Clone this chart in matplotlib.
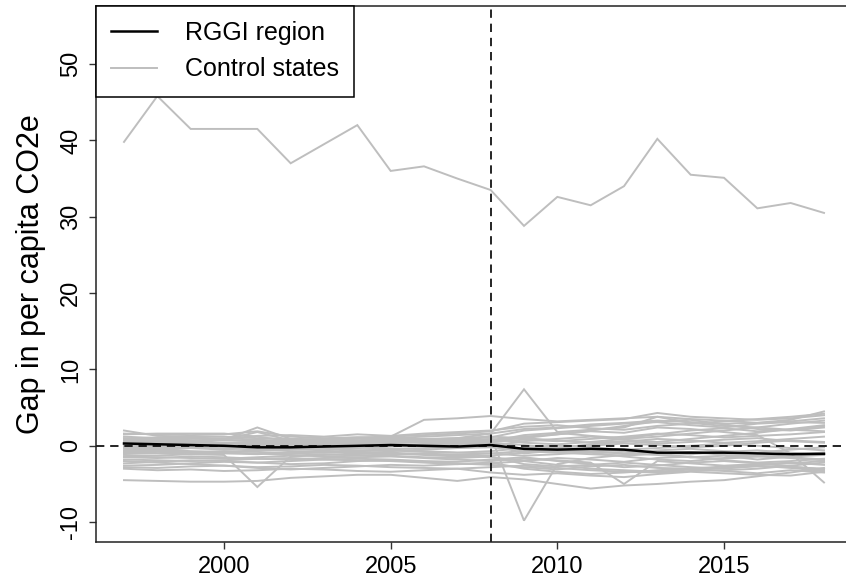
import numpy as np
import matplotlib
matplotlib.use("Agg")
import matplotlib.pyplot as plt

plt.rcParams['font.family'] = ['Liberation Sans', 'DejaVu Sans']

###
### Data: gap in per capita CO2e, 1997-2018
###
years = list(range(1997, 2019))
treat_year = 2008

rggi = [0.3, 0.2, 0.1, 0.0, -0.2, -0.2, -0.1, 0.0, 0.1, 0.0, -0.1, 0.1,
        -0.4, -0.5, -0.4, -0.5, -0.9, -0.9, -0.9, -1.0, -1.1, -1.05]

ctrl_high = [39.8, 45.8, 41.5, 41.5, 41.5, 37.0, 39.5, 42.0, 36.0, 36.6, 35.0,
             33.5, 28.8, 32.6, 31.5, 34.0, 40.2, 35.5, 35.1, 31.1, 31.8, 30.5]
g01 = [2.0, 1.3, 1.2, 1.2, 1.0, 0.9, 0.8, 0.9, 1.0, 1.2, 1.4, 1.6, 2.2, 2.4, 2.8, 3.0, 3.3, 3.1, 2.9, 3.0, 3.4, 4.5]
g02 = [1.5, 1.6, 1.6, 1.6, 1.2, 0.6, 0.5, 0.7, 0.8, 0.9, 1.0, 1.2, 1.0, 1.5, 2.0, 2.6, 3.2, 3.4, 2.8, 2.2, 2.0, 2.4]
g03 = [0.6, 0.4, 0.5, 0.3, 0.5, 0.6, 0.7, 0.6, 1.2, 3.4, 3.6, 3.9, 3.5, 3.2, 3.4, 3.6, 3.8, 3.5, 3.3, 3.0, 3.2, 3.6]
g04 = [1.0, 0.9, 0.7, 0.8, 2.4, 0.9, 0.8, 1.0, 0.6, 0.8, 1.0, 1.6, 7.4, 1.8, 2.1, 2.4, 3.8, 3.0, 2.6, 2.4, 2.9, 3.3]
g05 = [-0.4, -0.6, -0.3, -0.5, -0.2, -0.4, -0.6, -0.3, -0.1, 0.2, 0.5, 1.3, -9.8, -2.4, -1.6, -1.2, -1.0, -1.5, -1.3, -1.8, -1.4, -1.2]
g06 = [-0.9, -1.0, -1.1, -1.2, -5.4, -1.4, -1.2, -1.0, -0.9, -1.1, -1.2, -1.0, -0.7, -0.9, -1.1, -1.3, -1.0, -0.8, -1.2, -1.4, -1.1, -0.9]
g07 = [-1.5, -1.6, -1.4, -1.5, -1.7, -1.8, -1.6, -1.5, -1.4, -1.6, -1.8, -2.0, -1.7, -1.9, -2.2, -5.0, -2.0, -2.3, -2.6, -2.4, -2.2, -2.5]
g08 = [-4.5, -4.6, -4.7, -4.7, -4.6, -4.2, -4.0, -3.8, -3.8, -4.2, -4.6, -4.1, -4.4, -5.0, -5.6, -5.2, -5.0, -4.7, -4.5, -4.0, -3.5, -2.9]
g09 = [-0.2, -0.3, -0.1, 0.2, 0.4, 0.3, 0.1, 0.0, 0.3, 0.5, 0.6, 0.8, 1.2, 1.5, 1.9, 1.7, 2.4, 2.2, 1.8, 1.4, -1.0, -4.8]
g10 = [-2.0, -2.2, -2.4, -2.6, -2.8, -2.7, -2.5, -2.6, -2.8, -2.9, -3.0, -2.8, -2.6, -2.9, -3.2, -3.4, -3.5, -3.3, -3.2, -3.0, -2.6, -2.2]
g11 = [-3.0, -3.2, -3.1, -3.3, -3.2, -3.0, -3.1, -3.3, -3.4, -3.2, -3.0, -3.5, -3.8, -3.6, -3.9, -4.1, -3.7, -3.4, -3.6, -3.8, -3.9, -3.4]
g12 = [0.3, 0.2, 0.4, 0.1, 0.2, 0.5, 0.6, 0.4, 0.2, 0.1, 0.3, 0.5, 0.8, 0.6, 0.9, 1.2, 1.6, 1.4, 1.1, 1.3, 1.5, 1.8]
g13 = [-0.6, -0.5, -0.7, -0.8, -0.6, -0.5, -0.4, -0.6, -0.7, -0.5, -0.3, -0.2, -0.6, -0.8, -0.5, -0.7, -0.9, -1.1, -0.8, -0.6, -0.9, -1.2]
g14 = [1.2, 1.0, 1.1, 0.9, 1.3, 1.4, 1.2, 1.5, 1.3, 1.6, 1.8, 2.0, 2.5, 2.7, 2.3, 2.1, 2.6, 2.9, 3.2, 3.5, 3.8, 4.2]
g15 = [-1.2, -1.3, -1.1, -0.9, -1.0, -1.2, -1.4, -1.3, -1.1, -1.0, -1.2, -1.5, -2.0, -2.5, -3.0, -3.2, -3.4, -3.1, -2.9, -2.7, -2.8, -3.0]
g16 = [0.8, 0.7, 0.6, 0.8, 1.8, 0.7, 0.6, 0.5, 0.7, 0.9, 0.8, 0.6, 1.4, 1.7, 1.3, 1.0, 1.5, 2.0, 2.3, 1.9, 2.1, 2.6]
g17 = [-2.6, -2.5, -2.3, -2.1, -2.2, -2.4, -2.3, -2.0, -1.9, -2.1, -2.3, -2.5, -2.8, -3.1, -2.7, -2.5, -2.9, -3.0, -2.7, -2.5, -2.3, -2.0]
g18 = [0.0, -0.1, 0.1, 0.0, -0.2, 0.1, 0.2, 0.3, 0.1, 0.0, 0.2, 0.4, 0.1, -0.3, 0.2, 0.5, 0.9, 0.7, 0.4, 0.6, 0.9, 1.2]
g19 = [-1.8, -1.9, -2.0, -1.9, -1.7, -1.6, -1.8, -1.9, -2.0, -2.2, -2.4, -2.3, -2.0, -1.6, -1.8, -2.1, -1.6, -1.4, -1.9, -2.2, -2.0, -1.7]
g20 = [1.6, 1.5, 1.4, 1.5, 1.9, 1.2, 1.0, 1.1, 1.2, 1.4, 1.6, 1.9, 2.9, 3.1, 3.3, 3.5, 4.3, 3.8, 3.6, 3.4, 3.6, 4.0]
g21 = [-0.3, -0.4, -0.2, -0.3, -0.5, -0.7, -0.8, -0.6, -0.5, -0.7, -0.9, -1.0, -1.3, -1.1, -0.8, -1.0, -1.2, -1.5, -1.7, -1.4, -1.6, -1.9]
g22 = [0.5, 0.6, 0.5, 0.7, 0.6, 0.4, 0.3, 0.5, 0.6, 0.4, 0.2, 0.0, -0.4, -0.2, 0.0, 0.3, 0.1, -0.2, 0.0, 0.4, 0.7, 0.5]
g23 = [-2.3, -2.1, -1.9, -2.0, -2.2, -2.0, -1.8, -1.7, -1.8, -2.0, -2.1, -1.8, -1.5, -2.0, -2.4, -2.8, -2.6, -2.2, -2.0, -2.3, -2.7, -3.1]
g24 = [0.9, 1.1, 1.0, 0.8, 0.6, 0.7, 0.9, 1.1, 1.0, 0.8, 0.9, 1.1, 2.0, 2.3, 2.6, 2.9, 3.1, 2.7, 2.4, 2.9, 3.1, 3.0]
g25 = [-1.0, -0.8, -0.9, -0.7, -0.8, -1.0, -0.9, -0.7, -0.6, -0.8, -0.9, -0.7, -0.3, 0.1, -0.2, -0.5, -0.3, 0.0, 0.3, 0.0, -0.3, -0.6]
g26 = [0.2, 0.3, 0.2, 0.4, 0.3, 0.2, 0.0, -0.1, 0.0, 0.2, 0.4, 0.2, -1.0, -0.6, -0.9, -1.4, -1.8, -2.0, -1.6, -1.3, -1.5, -1.8]
g27 = [-0.1, 0.0, -0.2, -0.1, 0.1, -0.1, -0.3, -0.2, -0.4, -0.3, -0.1, 0.0, 0.6, 0.9, 1.2, 0.8, 0.5, 0.9, 1.3, 1.7, 2.2, 2.7]
g28 = [-1.4, -1.5, -1.6, -1.7, -1.5, -1.3, -1.1, -1.2, -1.3, -1.5, -1.6, -1.4, -2.4, -2.7, -2.5, -2.2, -2.5, -2.8, -3.0, -2.6, -2.9, -3.3]
g29 = [0.4, 0.5, 0.3, 0.2, 0.0, 0.2, 0.4, 0.6, 0.8, 0.7, 0.5, 0.7, 1.0, 0.7, 0.4, 0.6, 0.3, 0.5, 0.8, 1.0, 0.6, 0.4]
g30 = [-0.8, -0.7, -0.8, -1.0, -1.1, -0.9, -0.7, -0.9, -1.0, -1.2, -1.4, -1.3, -0.9, -0.5, -0.7, -1.0, -0.6, -0.4, -0.7, -0.9, -0.5, -0.2]
g31 = [0.7, 0.8, 0.9, 1.0, 0.8, 0.6, 0.5, 0.3, 0.4, 0.6, 0.7, 0.9, 0.4, 0.2, 0.5, 0.9, 1.2, 1.6, 2.0, 2.4, 2.1, 1.9]
g32 = [-2.8, -2.9, -2.7, -2.6, -2.9, -3.1, -2.9, -2.7, -2.5, -2.6, -2.4, -2.2, -3.0, -3.4, -3.7, -3.5, -3.2, -3.0, -3.3, -3.6, -3.2, -3.5]

controls = [ctrl_high, g01, g02, g03, g04, g05, g06, g07, g08, g09, g10, g11,
            g12, g13, g14, g15, g16, g17, g18, g19, g20, g21, g22, g23, g24,
            g25, g26, g27, g28, g29, g30, g31, g32]

yticks = [-10, 0, 10, 20, 30, 40, 50]
xticks = [2000, 2005, 2010, 2015]

###
### Plot
###
fig = plt.figure(figsize=(8.46, 5.84), dpi=100)
ax = fig.add_axes([96/846, 1 - 542/584, 756/846, 536/584])

for series in controls:
    ax.plot(years, series, color='#BEBEBE', lw=1.4, solid_joinstyle='miter')
ax.plot(years, rggi, color='black', lw=1.8)

ax.axhline(0, color='black', lw=1.2, dashes=(5, 3.5))
ax.axvline(treat_year, color='black', lw=1.2, dashes=(5, 3.5))

# R-style axis limits: data range padded by 4%
xr = years[-1] - years[0]
ax.set_xlim(years[0] - 0.04*xr, years[-1] + 0.04*xr)
ax.set_ylim(-10 - 0.04*65, 55 + 0.04*65)

ax.set_xticks(xticks)
ax.set_yticks(yticks)
ax.set_yticklabels([str(v) for v in yticks], rotation=90, va='center')
ax.tick_params(axis='both', direction='out', length=5, width=1.0,
               labelsize=17, color='#333333')
ax.tick_params(axis='x', pad=5)
ax.tick_params(axis='y', pad=5)
for sp in ax.spines.values():
    sp.set_linewidth(1.1)
    sp.set_color('#222222')

ax.set_ylabel('Gap in per capita CO2e', fontsize=22)
ax.yaxis.set_label_coords(-0.066, 0.5)

leg = ax.legend([plt.Line2D([], [], color='black', lw=1.8),
                 plt.Line2D([], [], color='#BEBEBE', lw=1.4)],
                ['RGGI region', 'Control states'],
                loc='upper left', bbox_to_anchor=(0, 1), borderaxespad=0,
                fontsize=18, fancybox=False, framealpha=1,
                edgecolor='black', borderpad=0.6, handlelength=1.85,
                handletextpad=1.1, labelspacing=0.5)
leg.get_frame().set_linewidth(1.1)

fig.savefig('out.png', dpi=100)
